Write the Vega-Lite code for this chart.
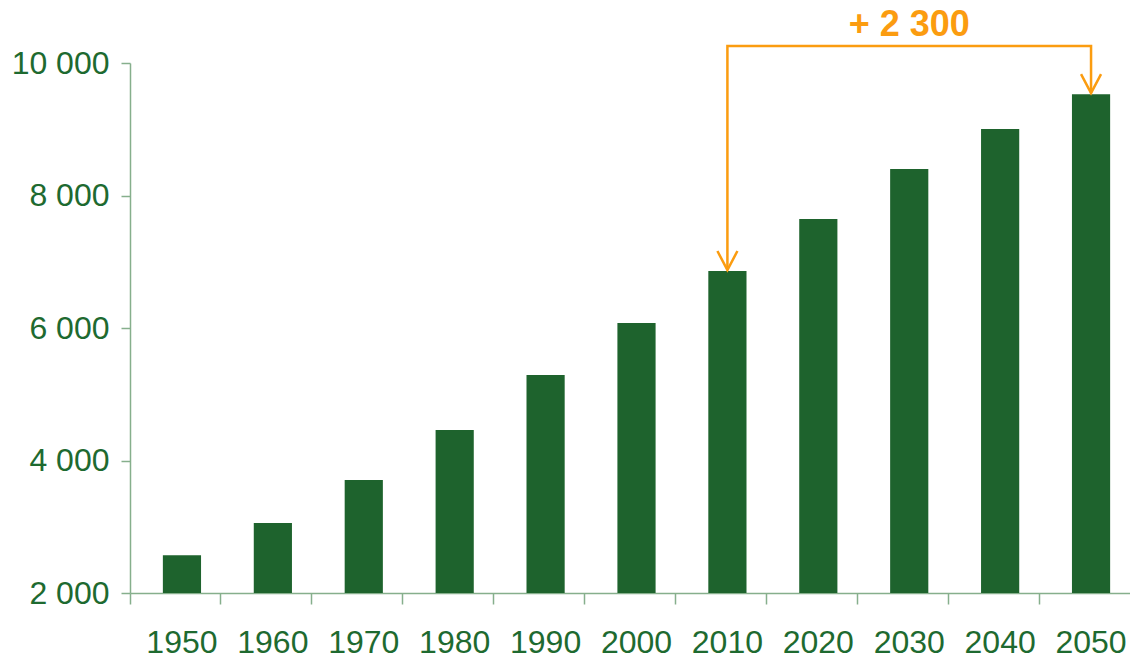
{
  "$schema": "https://vega.github.io/schema/vega-lite/v6.json",
  "autosize": {"type": "none"},
  "padding": {"left": 130, "top": 63, "right": 0, "bottom": 65},
  "width": 1000,
  "height": 530,
  "background": "white",
  "config": {"view": {"stroke": null}, "font": "Liberation Sans"},
  "datasets": {
    "pop": [
      {"year": "1950", "value": 2570},
      {"year": "1960", "value": 3055},
      {"year": "1970", "value": 3705},
      {"year": "1980", "value": 4460},
      {"year": "1990", "value": 5290},
      {"year": "2000", "value": 6075},
      {"year": "2010", "value": 6860},
      {"year": "2020", "value": 7645},
      {"year": "2030", "value": 8400},
      {"year": "2040", "value": 9005},
      {"year": "2050", "value": 9530}
    ],
    "bracket": [
      {"year": "2010", "value": 6875, "o": 1},
      {"year": "2010", "value": 10257, "o": 2},
      {"year": "2050", "value": 10257, "o": 3},
      {"year": "2050", "value": 9545, "o": 4}
    ],
    "heads": [
      {"year": "2010", "value": 6875},
      {"year": "2050", "value": 9545}
    ],
    "label": [
      {"year": "2030", "value": 10408, "text": "+ 2 300"}
    ]
  },
  "layer": [
    {
      "data": {"name": "pop"},
      "mark": {"type": "bar", "color": "#1E632D", "width": {"band": 0.42}, "xOffset": 6.5},
      "encoding": {
        "x": {
          "field": "year", "type": "ordinal",
          "scale": {"paddingInner": 0, "paddingOuter": 0},
          "axis": {
            "title": null,
            "bandPosition": 0,
            "labelOffset": 6.5,
            "labelFontSize": 32,
            "labelColor": "#1E6A30",
            "labelPadding": 23,
            "labelAngle": 0,
            "tickSize": 11,
            "tickColor": "#86AF8C",
            "domainColor": "#86AF8C",
            "tickWidth": 1.5,
            "domainWidth": 1.5
          }
        },
        "y": {
          "field": "value", "type": "quantitative",
          "scale": {"domain": [2000, 10000], "nice": false, "zero": false},
          "axis": {
            "title": null,
            "values": [2000, 4000, 6000, 8000, 10000],
            "labelExpr": "replace(format(datum.value, ','), ',', ' ')",
            "labelFontSize": 32,
            "labelColor": "#1E6A30",
            "labelPadding": 12,
            "tickSize": 9,
            "tickColor": "#86AF8C",
            "domainColor": "#86AF8C",
            "tickWidth": 1.5,
            "domainWidth": 1.5,
            "grid": false
          }
        },
        "y2": {"datum": 2000}
      }
    },
    {
      "data": {"name": "bracket"},
      "mark": {"type": "line", "color": "#FB9C10", "strokeWidth": 2.5, "xOffset": 6.5, "strokeJoin": "miter"},
      "encoding": {
        "x": {"field": "year", "type": "ordinal"},
        "y": {"field": "value", "type": "quantitative"},
        "order": {"field": "o", "type": "quantitative"}
      }
    },
    {
      "data": {"name": "heads"},
      "mark": {"type": "point", "shape": "M-1,-1.9L0,0L1,-1.9", "size": 400, "filled": false, "color": "#FB9C10", "strokeWidth": 2.5, "xOffset": 6.5, "opacity": 1},
      "encoding": {
        "x": {"field": "year", "type": "ordinal"},
        "y": {"field": "value", "type": "quantitative"}
      }
    },
    {
      "data": {"name": "label"},
      "mark": {"type": "text", "color": "#FB9C10", "fontSize": 36, "fontWeight": "bold", "align": "center", "baseline": "alphabetic", "xOffset": 6.5},
      "encoding": {
        "x": {"field": "year", "type": "ordinal"},
        "y": {"field": "value", "type": "quantitative"},
        "text": {"field": "text"}
      }
    }
  ]
}
